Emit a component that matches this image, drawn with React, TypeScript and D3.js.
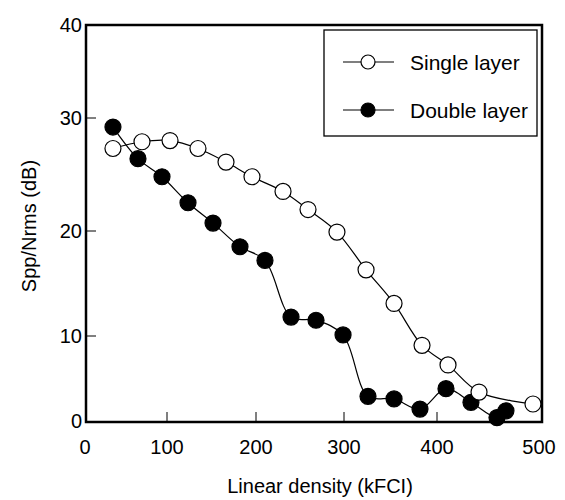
import React from "react";
import * as d3 from "d3";

const singleX = [34.1, 69.5, 103.4, 134.8, 166.3, 195.5, 230.7, 259.1, 292.0, 323.7, 353.8, 383.9, 410.8, 441.2, 494.1];
const singleY = [27.3, 27.9, 28.0, 27.3, 26.1, 24.8, 23.5, 21.9, 19.9, 16.3, 13.1, 8.9, 6.6, 3.4, 2.0];
const doubleX = [34.1, 64.6, 93.9, 123.6, 151.7, 182.0, 210.2, 239.8, 268.2, 298.9, 325.8, 353.8, 381.7, 408.8, 433.3, 458.8, 467.6];
const doubleY = [29.2, 26.4, 24.8, 22.5, 20.7, 18.5, 17.2, 11.8, 11.5, 10.1, 2.9, 2.6, 1.4, 3.8, 2.2, 0.4, 1.2];
const xTicks = [0, 100, 200, 300, 400, 500];
const yTicks = [0, 10, 20, 30, 40];
const seriesNames = ["Single layer", "Double layer"];

const W = 565;
const H = 500;
const frame = { left: 86, right: 542, top: 25, bottom: 422 };
const FONT = "'Liberation Sans', Arial, Helvetica, sans-serif";

export default function App() {
  // piecewise-linear scales follow the tick spacing of the original figure
  const x = d3.scaleLinear().domain(xTicks).range([85, 167, 256, 344, 437, 539]);
  const y = d3.scaleLinear().domain(yTicks).range([421, 336, 231, 118, 25]);
  const line = d3
    .line<[number, number]>()
    .x((d) => x(d[0]))
    .y((d) => y(d[1]))
    .curve(d3.curveCatmullRom.alpha(0.5));
  const single: [number, number][] = singleX.map((v, i) => [v, singleY[i]]);
  const dbl: [number, number][] = doubleX.map((v, i) => [v, doubleY[i]]);
  const r = 8;

  const legend = { x0: 324, y0: 30, x1: 537, y1: 136 };
  const rows = [
    { y: 62, fill: "#fff", name: seriesNames[0] },
    { y: 110, fill: "#000", name: seriesNames[1] },
  ];

  return (
    <svg width={W} height={H} style={{ display: "block", position: "absolute", left: 0, top: 0, background: "#fff" }}>
      <rect x={0} y={0} width={W} height={H} fill="#fff" />
      <path d={line(dbl) || ""} fill="none" stroke="#000" strokeWidth={1.2} />
      <path d={line(single) || ""} fill="none" stroke="#000" strokeWidth={1.2} />
      {dbl.map((d, i) => (
        <circle key={"d" + i} cx={x(d[0])} cy={y(d[1])} r={r} fill="#000" stroke="#000" strokeWidth={1.2} />
      ))}
      {single.map((d, i) => (
        <circle key={"s" + i} cx={x(d[0])} cy={y(d[1])} r={r} fill="#fff" stroke="#000" strokeWidth={1.2} />
      ))}
      <rect
        x={frame.left}
        y={frame.top}
        width={frame.right - frame.left}
        height={frame.bottom - frame.top}
        fill="none"
        stroke="#000"
        strokeWidth={2.5}
      />
      {xTicks.slice(1, -1).map((t) => (
        <line key={"xt" + t} x1={x(t)} x2={x(t)} y1={frame.bottom} y2={frame.bottom - 10} stroke="#000" strokeWidth={1} />
      ))}
      {yTicks.slice(1, -1).map((t) => (
        <line key={"yt" + t} x1={frame.left} x2={frame.left + 10} y1={y(t)} y2={y(t)} stroke="#000" strokeWidth={1} />
      ))}
      {xTicks.map((t) => (
        <text key={"xl" + t} x={x(t)} y={454} textAnchor="middle" fontFamily={FONT} fontSize={20} fill="#000">
          {t}
        </text>
      ))}
      {yTicks.map((t) => (
        <text key={"yl" + t} x={82} y={y(t) + 7} textAnchor="end" fontFamily={FONT} fontSize={20} fill="#000">
          {t}
        </text>
      ))}
      <text x={320} y={493} textAnchor="middle" fontFamily={FONT} fontSize={20} fill="#000">
        Linear density (kFCI)
      </text>
      <text
        transform={`translate(36, 226) rotate(-90)`}
        textAnchor="middle"
        fontFamily={FONT}
        fontSize={20}
        fill="#000"
      >
        Spp/Nrms (dB)
      </text>
      <rect x={legend.x0} y={legend.y0} width={legend.x1 - legend.x0} height={legend.y1 - legend.y0} fill="#fff" stroke="#000" strokeWidth={1.3} />
      {rows.map((row) => (
        <g key={row.name}>
          <line x1={343} x2={394} y1={row.y} y2={row.y} stroke="#000" strokeWidth={1.2} />
          <circle cx={368} cy={row.y} r={7} fill={row.fill} stroke="#000" strokeWidth={1.2} />
          <text x={410} y={row.y + 7.5} fontFamily={FONT} fontSize={21} fill="#000">
            {row.name}
          </text>
        </g>
      ))}
    </svg>
  );
}
